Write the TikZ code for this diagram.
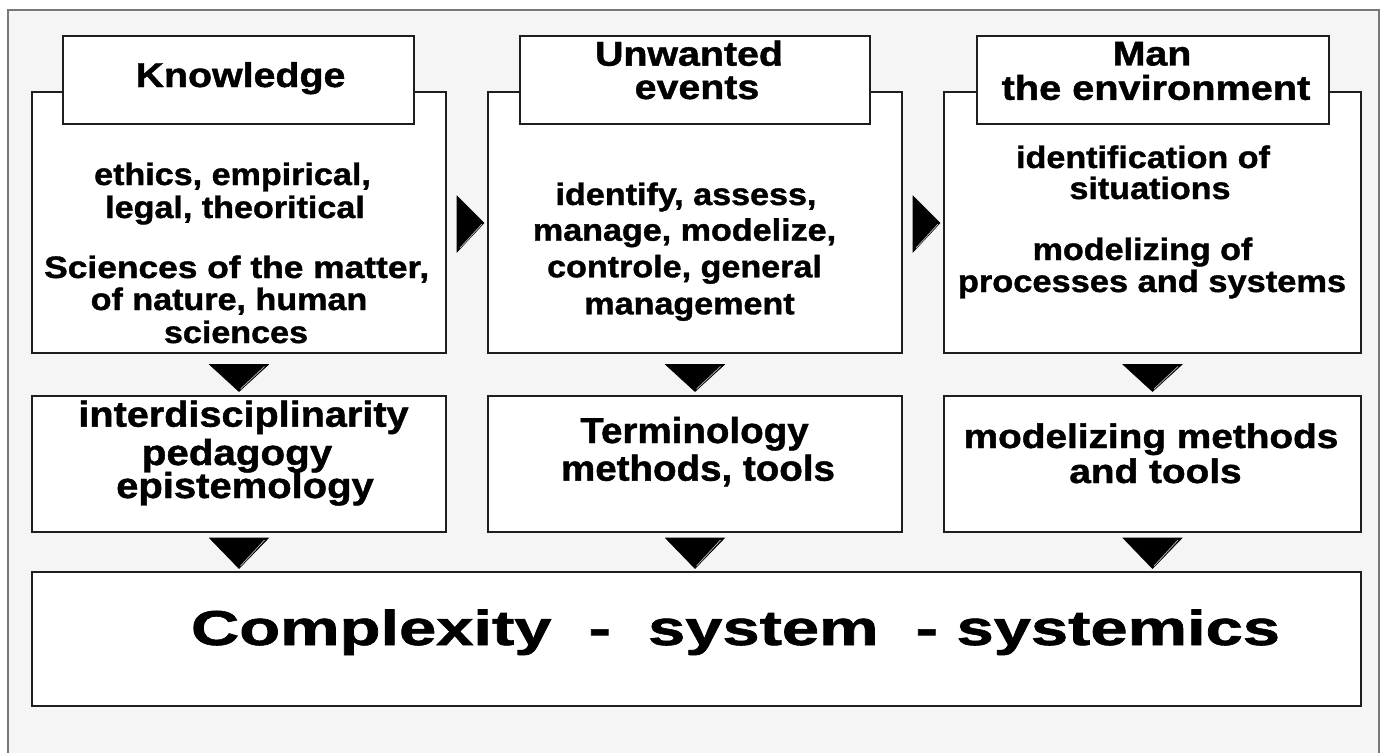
\documentclass[tikz,border=0pt]{standalone}
\usepackage{fontspec}
\setmainfont{Liberation Sans}[BoldFeatures={FakeBold=1.2}]
\usepackage{graphicx}
\usetikzlibrary{calc}
\definecolor{bg}{RGB}{245,245,245}
\definecolor{framec}{RGB}{120,120,120}
\definecolor{edgec}{RGB}{30,30,30}
\newcommand{\sx}[2]{\scalebox{#1}[1]{#2}}
\begin{document}
\begin{tikzpicture}[x=1pt,y=-1pt,
  box/.style={draw=edgec, fill=white, line width=1.3pt, inner sep=0pt, outer sep=0pt, rectangle},
  tri/.style={fill=black, draw=black, line width=0.6pt, line join=miter},
  hl/.style={draw=gray!55, line width=0.7pt},
  lbl/.style={anchor=base, inner sep=0pt, outer sep=0pt},
  ttl/.style={lbl, font=\fontsize{34.5}{34.5}\selectfont\bfseries},
  bdy/.style={lbl, font=\fontsize{31}{31}\selectfont\bfseries},
  rtw/.style={lbl, font=\fontsize{36}{36}\selectfont\bfseries},
  rtn/.style={lbl, font=\fontsize{34}{34}\selectfont\bfseries},
  big/.style={inner sep=0pt, outer sep=0pt, anchor=base west, font=\fontsize{49}{49}\selectfont\bfseries}
]
\useasboundingbox (0,0) rectangle (1391,752);
\fill[white] (0,0) rectangle (1391,752);
\draw[fill=bg, draw=framec, line width=1.5pt] (8,10) rectangle (1379,790);

% top boxes
\node[box, minimum width=414pt, minimum height=261pt] (k1) at (239,222.5) {};
\node[box, minimum width=414pt, minimum height=261pt] (u1) at (695,222.5) {};
\node[box, minimum width=417pt, minimum height=261pt] (m1) at (1152.5,222.5) {};
% title boxes
\node[box, minimum width=351pt, minimum height=88pt] (kt) at (238.5,80) {};
\node[box, minimum width=350pt, minimum height=88pt] (ut) at (695,80) {};
\node[box, minimum width=352pt, minimum height=88pt] (mt) at (1153,80) {};
% second row
\node[box, minimum width=414pt, minimum height=136pt] (k2) at (239,464) {};
\node[box, minimum width=414pt, minimum height=136pt] (u2) at (695,464) {};
\node[box, minimum width=417pt, minimum height=136pt] (m2) at (1152.5,464) {};
% bottom box
\node[box, minimum width=1329pt, minimum height=134pt] (cx) at (696.5,639) {};

% right arrows
\filldraw[tri] ($(k1.east)+(11,-26.5)$) -- ($(u1.west)+(-4,0.5)$) -- ($(k1.east)+(11,29.5)$) -- cycle;
\draw[hl] ($(k1.east)+(14,25.5)$) -- ($(u1.west)+(-6,1.5)$);
\filldraw[tri] ($(u1.east)+(11,-26.5)$) -- ($(m1.west)+(-4,0.5)$) -- ($(u1.east)+(11,29.5)$) -- cycle;
\draw[hl] ($(u1.east)+(14,25.5)$) -- ($(m1.west)+(-6,1.5)$);

% down arrows, first row
\foreach \a/\b in {k1/k2,u1/u2,m1/m2}{
  \filldraw[tri] ($(\a.south)+(-29.5,11.5)$) -- ($(\a.south)+(29.5,11.5)$) -- ($(\b.north)+(0,-4.5)$) -- cycle;
  \draw[hl] ($(\b.north)+(1.5,-7)$) -- ($(\a.south)+(25.5,13.5)$);
}
% down arrows, second row
\foreach \a in {k2,u2,m2}{
  \filldraw[tri] ($(\a.south)+(-29.5,6)$) -- ($(\a.south)+(29.5,6)$) -- ($(\a.south |- cx.north)+(0,-3.5)$) -- cycle;
  \draw[hl] ($(\a.south |- cx.north)+(1.5,-6)$) -- ($(\a.south)+(25.5,8)$);
}

% titles
\node[ttl] (tK) at (240.5,87) {\sx{1.14}{Knowledge}};
\node[ttl] (tU1) at (689,65.7) {\sx{1.14}{Unwanted}};
\node[ttl] (tU2) at (697,99) {\sx{1.14}{events}};
\node[ttl] (tM1) at (1152,65.5) {\sx{1.14}{Man}};
\node[ttl] (tM2) at (1156,99.8) {\sx{1.15}{the environment}};

% knowledge body
\node[bdy] (kb1) at (232.5,185) {\sx{1.1}{ethics, empirical,}};
\node[bdy] (kb2) at (235,218) {\sx{1.1}{legal, theoritical}};
\node[bdy] (kb3) at (236.7,278) {\sx{1.14}{Sciences of the matter,}};
\node[bdy] (kb4) at (229,310) {\sx{1.1}{of nature, human}};
\node[bdy] (kb5) at (236,343) {\sx{1.1}{sciences}};

% unwanted body
\node[bdy] (ub1) at (686,205) {\sx{1.1}{identify, assess,}};
\node[bdy] (ub2) at (684.5,240.7) {\sx{1.1}{manage, modelize,}};
\node[bdy] (ub3) at (684.5,277.3) {\sx{1.1}{controle, general}};
\node[bdy] (ub4) at (689.5,314.3) {\sx{1.1}{management}};

% man body
\node[bdy] (mb1) at (1143,168) {\sx{1.1}{identification of}};
\node[bdy] (mb2) at (1150,199) {\sx{1.1}{situations}};
\node[bdy] (mb3) at (1142.5,260) {\sx{1.1}{modelizing of}};
\node[bdy] (mb4) at (1152,292) {\sx{1.11}{processes and systems}};

% second row texts
\node[rtw] (k2a) at (243.5,426.7) {\sx{1.1}{interdisciplinarity}};
\node[rtw] (k2b) at (237,465) {\sx{1.12}{pedagogy}};
\node[rtw] (k2c) at (245,498) {\sx{1.11}{epistemology}};
\node[rtw] (u2a) at (694.5,443) {\sx{1.07}{Terminology}};
\node[rtw] (u2b) at (698,480.7) {\sx{1.07}{methods, tools}};
\node[rtn] (m2a) at (1151,448) {\sx{1.14}{modelizing methods}};
\node[rtn] (m2b) at (1155.5,483) {\sx{1.14}{and tools}};

% bottom text
\node[big] (tc) at (191,645) {\sx{1.365}{Complexity~~-~~system~~-~systemics}};
\end{tikzpicture}
\end{document}
